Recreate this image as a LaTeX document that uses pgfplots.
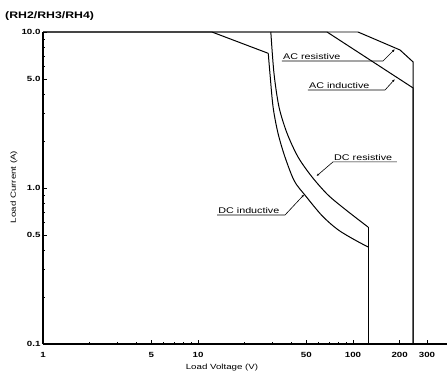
\documentclass[border=0pt]{standalone}
\usepackage{pgfplots}
\pgfplotsset{compat=1.18}
\usepackage{fontspec}
\setmainfont{Liberation Sans}[FakeStretch=1.3]
\newfontfamily\titlefont{Liberation Sans}[FakeStretch=1.3]
\usetikzlibrary{arrows.meta}
\begin{document}
\begin{tikzpicture}[x=1bp,y=1bp]
\useasboundingbox (-43bp,-34bp) rectangle (405bp,344bp);
\begin{axis}[
  at={(0,0)}, anchor=south west,
  scale only axis, width=404bp, height=312bp,
  xmode=log, ymode=log,
  xmin=1, xmax=404, ymin=0.1, ymax=10,
  axis x line*=bottom, axis y line*=left,
  axis line style={line width=1.1pt, -},
  xtick={1,5,10,50,100,200,300},
  xticklabels={1,5,10,50,100,200,300},
  minor xtick={2,3,4,6,7,8,9,20,30,40,60,70,80,90},
  ytick={0.1,0.5,1,5,10},
  yticklabels={0.1,0.5,1.0,5.0,10.0},
  minor ytick={0.2,0.3,0.4,0.6,0.7,0.8,0.9,2,3,4,6,7,8,9},
  tick align=inside,
  major tick length=4.5bp, minor tick length=2.5bp,
  every tick/.style={black, line width=0.8pt},
  /pgf/number format/assume math mode=true,
  tick label style={font=\bfseries\fontsize{7.5}{9}\selectfont},
  xticklabel style={yshift=-5bp},
  yticklabel style={xshift=1bp},
  clip=false,
]
% AC resistive
\addplot[black, line width=1pt] coordinates {(1,10) (107.7,10) (201,7.67) (244,6.43) (244,0.1)};
% AC inductive
\addplot[black, line width=1pt] coordinates {(1,10) (68,10) (244,4.38) (244,0.1)};
% DC inductive
\addplot[black, line width=1pt] coordinates {(1,10) (12.3,10) (28.4,7.3)};
\addplot[black, line width=1pt, smooth] coordinates {(28.4,7.3) (29.1,5.46) (30.5,3.31) (32.8,2.25) (36.4,1.58) (41.8,1.11) (49.0,0.90) (63.1,0.665) (80.0,0.54) (103,0.464) (125,0.419)};
\addplot[black, line width=1pt] coordinates {(125,0.419) (125,0.1)};
% DC resistive
\addplot[black, line width=1pt, smooth] coordinates {(29.5,10) (30.9,5.46) (33.3,3.31) (37.5,2.25) (44.2,1.58) (54.4,1.177) (69.0,0.902) (90.1,0.723) (125,0.562)};
\addplot[black, line width=1pt] coordinates {(125,0.562) (125,0.1)};
% annotations
\node[anchor=south west, inner sep=1bp, font=\fontsize{8.3}{9}\selectfont] at (axis cs:34.8,6.52) {AC resistive};
\draw[line width=0.6pt, -{Latex[length=3bp,width=2.2bp]}] (axis cs:34.8,6.52) -- (axis cs:156,6.52) -- (axis cs:186.6,7.78);
\node[anchor=south west, inner sep=1bp, font=\fontsize{8.3}{9}\selectfont] at (axis cs:51.2,4.25) {AC inductive};
\draw[line width=0.6pt, -{Latex[length=3bp,width=2.2bp]}] (axis cs:51.2,4.25) -- (axis cs:161,4.25) -- (axis cs:186.6,5.0);
\node[anchor=south west, inner sep=1bp, font=\fontsize{8.3}{9}\selectfont] at (axis cs:74.3,1.47) {DC resistive};
\draw[line width=0.6pt, -{Latex[length=3bp,width=2.2bp]}] (axis cs:192,1.47) -- (axis cs:74.3,1.47) -- (axis cs:58,1.19);
\node[anchor=south west, inner sep=1bp, font=\fontsize{8.3}{9}\selectfont] at (axis cs:13.3,0.671) {DC inductive};
\draw[line width=0.6pt, -{Latex[length=3bp,width=2.2bp]}] (axis cs:13.3,0.671) -- (axis cs:36.4,0.671) -- (axis cs:48.5,0.91);
\end{axis}
\node[anchor=west, inner sep=0pt, font=\titlefont\bfseries\fontsize{9.5}{10}\selectfont] at (-38bp,328bp) {(RH2/RH3/RH4)};
\node[font=\fontsize{7.5}{8}\selectfont] at (179bp,-24bp) {Load Voltage (V)};
\node[rotate=90, font=\fontsize{7.5}{8}\selectfont] at (-29bp,157bp) {Load Current (A)};
\end{tikzpicture}
\end{document}
